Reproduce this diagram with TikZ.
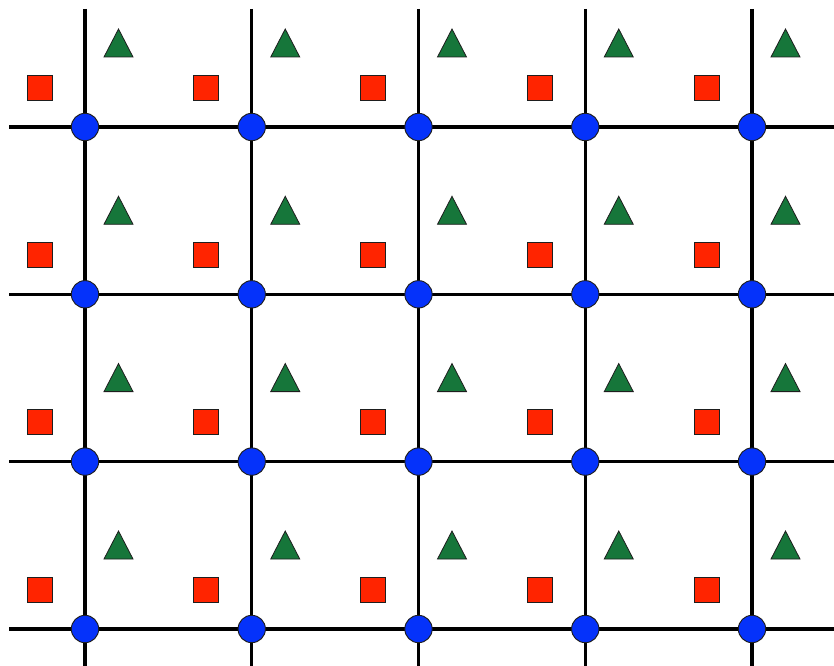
\documentclass[tikz,border=0pt]{standalone}
\usetikzlibrary{calc}
\definecolor{dotblue}{RGB}{5,50,250}
\definecolor{sqred}{RGB}{255,36,0}
\definecolor{trigreen}{RGB}{22,118,58}
\definecolor{edge}{RGB}{30,30,30}
\tikzset{
  gridline/.style={line width=2.3pt, black},
  dot/.style={circle, inner sep=0pt, minimum size=20.5pt, fill=dotblue, draw=edge, line width=0.7pt},
  redsq/.style={rectangle, inner sep=0pt, minimum size=18.75pt, fill=sqred, draw=edge, line width=0.6pt},
  greentri/.style={fill=trigreen, draw=edge, line width=0.6pt, line join=miter}
}
\begin{document}
\begin{tikzpicture}[x=0.75pt,y=-0.75pt]
\useasboundingbox (0,0) rectangle (834,666);
% grid lines
\foreach \gx in {85,251.75,418.5,585.25,752} {
  \draw[gridline] (\gx,9) -- (\gx,666);
}
\foreach \gy in {127,294.3,461.6,629} {
  \draw[gridline] (9,\gy) -- (834,\gy);
}
% lattice elements
\foreach \i/\gx in {0/85,1/251.75,2/418.5,3/585.25,4/752} {
  \foreach \j/\gy in {0/127,1/294.3,2/461.6,3/629} {
    \node[redsq] (sq-\i-\j) at (\gx-45.5,\gy-39.5) {};
    \coordinate (ta-\i-\j) at (\gx+33.5,\gy-98);
    \coordinate (tl-\i-\j) at (\gx+19,\gy-70);
    \coordinate (tr-\i-\j) at (\gx+48,\gy-70);
    \filldraw[greentri] (ta-\i-\j) -- (tr-\i-\j) -- (tl-\i-\j) -- cycle;
    \node[dot] (c-\i-\j) at (\gx,\gy) {};
  }
}
\end{tikzpicture}
\end{document}
